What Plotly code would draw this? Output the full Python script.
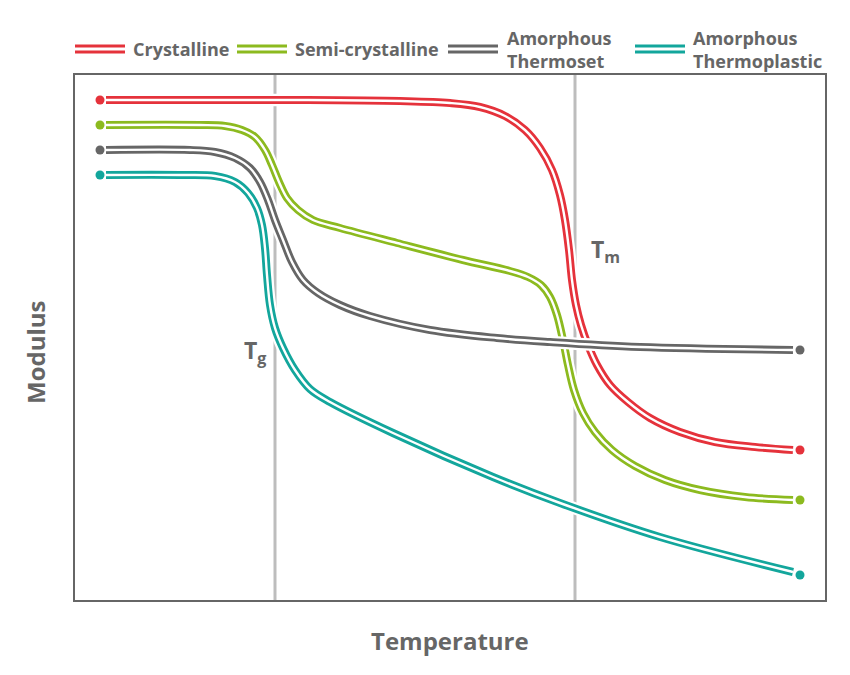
import plotly.graph_objects as go

# ---------------- data (temperature / modulus, arbitrary units) ----------------
series_names = ["Crystalline", "Semi-crystalline", "Amorphous<br>Thermoset", "Amorphous<br>Thermoplastic"]
series_colors = ["#e5323b", "#8cba1f", "#666666", "#13a69c"]

cryst_x = [1.24, 9.0, 13.0, 15.0, 16.2, 17.2, 18.0, 18.6, 19.08, 19.4, 19.6, 19.76, 19.88, 20.04, 20.24, 20.52, 20.88, 21.4, 22.12, 23.0, 24.2, 25.6, 27.2, 28.72]
cryst_y = [20.0, 20.0, 19.96, 19.88, 19.72, 19.36, 18.8, 18.08, 17.2, 16.2, 15.2, 14.0, 12.8, 11.8, 11.0, 10.2, 9.4, 8.6, 7.92, 7.28, 6.72, 6.32, 6.12, 6.0]

semi_x = [1.24, 5.0, 6.0, 6.68, 7.2, 7.6, 7.88, 8.16, 8.48, 8.92, 9.52, 10.6, 12.88, 15.52, 17.4, 18.12, 18.64, 19.0, 19.28, 19.52, 19.72, 19.96, 20.32, 20.8, 21.48, 22.4, 23.6, 25.0, 26.8, 28.72]
semi_y = [19.0, 19.0, 18.96, 18.8, 18.52, 18.0, 17.4, 16.72, 16.08, 15.6, 15.2, 14.88, 14.28, 13.6, 13.16, 12.92, 12.6, 12.12, 11.4, 10.4, 9.4, 8.4, 7.48, 6.72, 6.0, 5.36, 4.8, 4.4, 4.12, 4.0]

thermoset_x = [1.24, 4.6, 5.6, 6.4, 7.0, 7.4, 7.72, 8.0, 8.32, 8.68, 9.12, 9.72, 10.6, 11.8, 14.2, 16.88, 19.0, 22.6, 28.72]
thermoset_y = [18.0, 18.0, 17.92, 17.68, 17.28, 16.72, 16.0, 15.2, 14.4, 13.52, 12.8, 12.28, 11.8, 11.36, 10.8, 10.48, 10.32, 10.12, 10.0]

thermoplastic_x = [1.24, 4.2, 5.6, 6.4, 6.92, 7.28, 7.48, 7.6, 7.68, 7.8, 8.0, 8.32, 8.8, 9.4, 10.2, 12.72, 16.72, 19.4, 23.4, 28.72]
thermoplastic_y = [17.0, 17.0, 16.96, 16.72, 16.28, 15.68, 15.0, 14.08, 13.0, 11.8, 10.88, 10.08, 9.2, 8.44, 7.92, 6.68, 4.92, 3.88, 2.52, 1.12]

start_x = [1, 1, 1, 1]
start_y = [20, 19, 18, 17]
end_x = [29, 29, 29, 29]
end_y = [6, 4, 10, 1]

tg_x = 8
tm_x = 20
x_range = [0, 30]
y_range = [0, 21]

curves_x = [cryst_x, semi_x, thermoset_x, thermoplastic_x]
curves_y = [cryst_y, semi_y, thermoset_y, thermoplastic_y]
draw_order = [0, 1, 3, 2]   # thermoset drawn on top

# ---------------- figure ----------------
W, H = 850, 675
OFF = 8                      # page body margin
ML, MT = 75 - OFF, 75 - OFF
PW, PH = 750, 525
MR, MB = W - ML - PW, H - MT - PH
TEXT = "#666666"
FONT = "Open Sans"

fig = go.Figure()

for xv in [tg_x, tm_x]:
    fig.add_trace(go.Scatter(x=[xv, xv], y=y_range, mode="lines",
                             line=dict(color="#bdbdbd", width=3),
                             hoverinfo="skip", showlegend=False))

for i in draw_order:
    cx, cy, col = curves_x[i], curves_y[i], series_colors[i]
    fig.add_trace(go.Scatter(x=cx, y=cy, mode="lines",
                             line=dict(color="white", width=12.5, shape="spline", smoothing=1.0),
                             hoverinfo="skip", showlegend=False))
    fig.add_trace(go.Scatter(x=cx, y=cy, mode="lines",
                             line=dict(color=col, width=8, shape="spline", smoothing=1.0),
                             name=series_names[i].replace("<br>", " "), showlegend=False))
    fig.add_trace(go.Scatter(x=cx, y=cy, mode="lines",
                             line=dict(color="white", width=2.4, shape="spline", smoothing=1.0),
                             hoverinfo="skip", showlegend=False))
    fig.add_trace(go.Scatter(x=[start_x[i], end_x[i]], y=[start_y[i], end_y[i]], mode="markers",
                             marker=dict(color=col, size=9),
                             hoverinfo="skip", showlegend=False))

# ---------------- manual legend (double-line swatches) ----------------
def px_x(p):
    return (p - OFF - ML) / PW
def px_y(p):
    return (MT + PH - (p - OFF)) / PH

legend_swatch_left = [75, 237, 448, 635]
legend_text_left = [131, 293, 505, 691]
legend_y = 49
shapes = []
annotations = []
for i in range(4):
    for dy in (-3, 3):
        shapes.append(dict(type="line", xref="paper", yref="paper",
                           x0=px_x(legend_swatch_left[i]), x1=px_x(legend_swatch_left[i] + 50),
                           y0=px_y(legend_y + dy), y1=px_y(legend_y + dy),
                           line=dict(color=series_colors[i], width=2.8)))
    annotations.append(dict(xref="paper", yref="paper",
                            x=px_x(legend_text_left[i]), y=px_y(legend_y),
                            xanchor="left", yanchor="middle", showarrow=False, align="left",
                            text="<b>" + series_names[i] + "</b>",
                            font=dict(family=FONT, size=18, color=TEXT)))

annotations += [
    dict(xref="paper", yref="paper", x=0.5, y=px_y(640), showarrow=False,
         text="<b>Temperature</b>", font=dict(family=FONT, size=24, color=TEXT),
         xanchor="center", yanchor="middle"),
    dict(xref="paper", yref="paper", x=px_x(35), y=px_y(352), showarrow=False,
         text="<b>Modulus</b>", textangle=-90, font=dict(family=FONT, size=24, color=TEXT),
         xanchor="center", yanchor="middle"),
    dict(xref="x", yref="y", x=tg_x - 0.3, y=9.95, showarrow=False,
         text="<b>T<sub>g</sub></b>", font=dict(family=FONT, size=23, color=TEXT),
         xanchor="right", yanchor="middle"),
    dict(xref="x", yref="y", x=tm_x + 0.55, y=14.0, showarrow=False,
         text="<b>T<sub>m</sub></b>", font=dict(family=FONT, size=23, color=TEXT),
         xanchor="left", yanchor="middle"),
]

fig.update_layout(
    width=W, height=H,
    margin=dict(l=ML, r=MR, t=MT, b=MB),
    paper_bgcolor="white", plot_bgcolor="white",
    showlegend=False,
    shapes=shapes, annotations=annotations,
    xaxis=dict(range=x_range, showgrid=False, zeroline=False, showticklabels=False,
               ticks="", showline=True, mirror=True, linecolor="#666666", linewidth=2),
    yaxis=dict(range=y_range, showgrid=False, zeroline=False, showticklabels=False,
               ticks="", showline=True, mirror=True, linecolor="#666666", linewidth=2),
)

fig.write_html("out.html")
